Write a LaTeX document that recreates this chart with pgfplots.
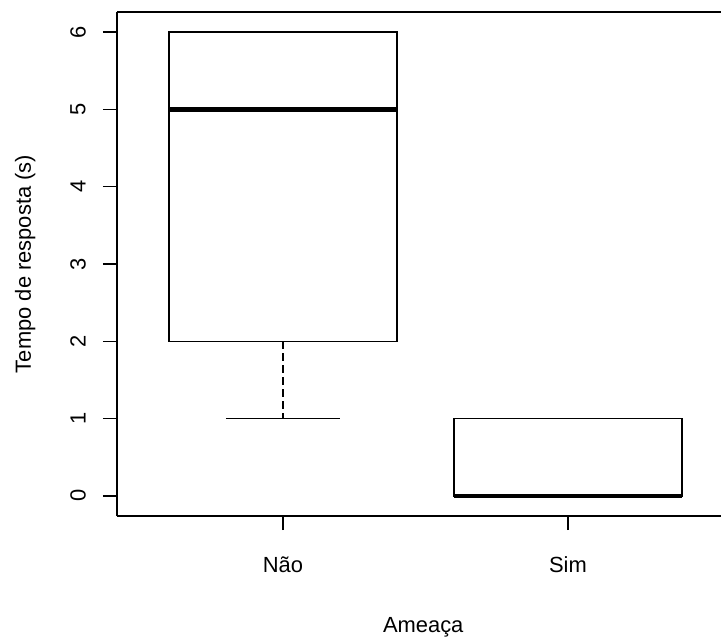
\documentclass[border=0pt]{standalone}
\usepackage{fontspec}
\setmainfont{Liberation Sans}
\usepackage{pgfplots}
\pgfplotsset{compat=1.18}
\usepgfplotslibrary{statistics}
\begin{document}
\fontsize{22}{26}\selectfont
\begin{tikzpicture}
\begin{axis}[
  at={(0,0)}, anchor=south west,
  scale only axis, width=604bp, height=504bp,
  xmin=0.418, xmax=2.537, ymin=-0.26, ymax=6.26,
  axis lines=left, axis line style={-, line width=1.4bp, black},
  xtick={1,2}, xticklabels={Não,Sim},
  ytick={0,1,2,3,4,5,6},
  tick align=outside, major tick length=14bp,
  tick style={line width=1.4bp, black},
  /pgf/number format/assume math mode=true,
  ticklabel style={font=\fontsize{22}{26}\selectfont},
  xticklabel style={anchor=center, yshift=-35bp},
  yticklabel style={anchor=center, xshift=-25bp, rotate=90},
  xlabel={Ameaça}, ylabel={Tempo de resposta (s)},
  label style={font=\fontsize{22}{26}\selectfont},
  xlabel style={at={(axis description cs:0.507,0)}, anchor=center, yshift=-111bp},
  ylabel style={at={(axis description cs:-0.152,0.5)}, anchor=center},
  clip=false,
  boxplot/draw direction=y,
  boxplot/box extend=0.8,
  boxplot/whisker extend=0.4,
  boxplot/every median/.style={line width=4.5bp},
  boxplot/draw/lower whisker/.code={%
    \draw[black, line width=1.4bp, dash pattern=on 8bp off 4bp]
      (boxplot box cs:\pgfplotsboxplotvalue{lower quartile},0.5)
      -- (boxplot box cs:\pgfplotsboxplotvalue{lower whisker},0.5);
    \draw[black, line width=1.4bp]
      (boxplot whisker cs:\pgfplotsboxplotvalue{lower whisker},0)
      -- (boxplot whisker cs:\pgfplotsboxplotvalue{lower whisker},1);
  },
  boxplot/draw/upper whisker/.code={%
    \draw[black, line width=1.4bp, dash pattern=on 8bp off 4bp]
      (boxplot box cs:\pgfplotsboxplotvalue{upper quartile},0.5)
      -- (boxplot box cs:\pgfplotsboxplotvalue{upper whisker},0.5);
    \draw[black, line width=1.4bp]
      (boxplot whisker cs:\pgfplotsboxplotvalue{upper whisker},0)
      -- (boxplot whisker cs:\pgfplotsboxplotvalue{upper whisker},1);
  },
]
\addplot[black, line width=1.4bp, boxplot prepared={
  lower whisker=1, lower quartile=2, median=5,
  upper quartile=6, upper whisker=6, draw position=1}]
  coordinates {};
\addplot[black, line width=1.4bp, boxplot prepared={
  lower whisker=0, lower quartile=0, median=0,
  upper quartile=1, upper whisker=1, draw position=2}]
  coordinates {};
\draw[line width=1.4bp, black] (rel axis cs:0,1) -- (rel axis cs:1,1);
\end{axis}
\pgfresetboundingbox
\useasboundingbox (-117bp,-125bp) rectangle (604bp,516bp);
\end{tikzpicture}
\end{document}
